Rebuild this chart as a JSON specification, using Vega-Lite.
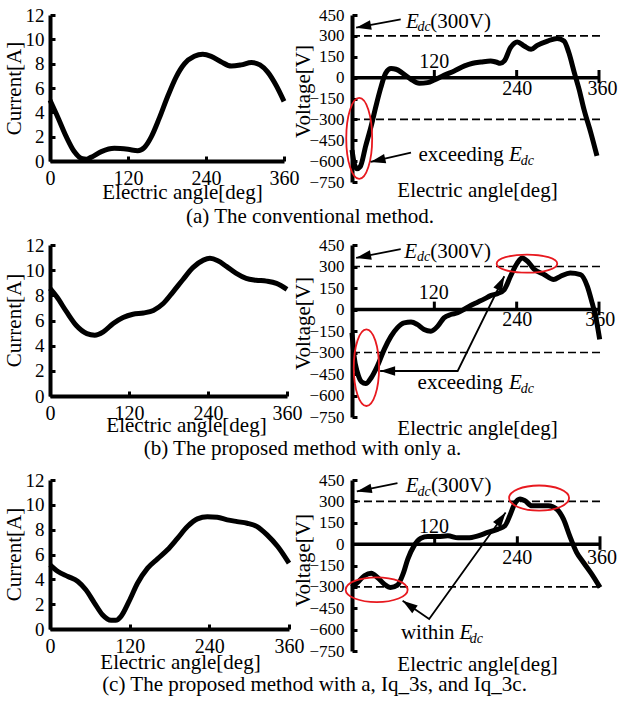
{
  "$schema": "https://vega.github.io/schema/vega-lite/v6.json",
  "padding": {"left": 2, "top": 6, "right": 2, "bottom": 2},
  "columns": 2,
  "bounds": "flush",
  "spacing": {"row": 63, "column": 63},
  "datasets": {
    "curA": [{"x":0,"y":5.0},{"x":12,"y":3.6},{"x":25,"y":2.0},{"x":37,"y":0.8},{"x":50,"y":0.18},{"x":56,"y":0.15},{"x":63,"y":0.3},{"x":79,"y":0.77},{"x":99,"y":1.04},{"x":120,"y":0.96},{"x":135,"y":0.85},{"x":145,"y":1.1},{"x":156,"y":2.0},{"x":168,"y":3.5},{"x":181,"y":5.3},{"x":194,"y":6.9},{"x":207,"y":8.0},{"x":222,"y":8.6},{"x":235,"y":8.77},{"x":248,"y":8.6},{"x":263,"y":8.16},{"x":279,"y":7.8},{"x":294,"y":7.9},{"x":310,"y":8.1},{"x":323,"y":7.9},{"x":335,"y":7.3},{"x":348,"y":6.2},{"x":360,"y":4.9}],
    "voltA": [{"x":0,"y":-520},{"x":3,"y":-610},{"x":7,"y":-655},{"x":12,"y":-640},{"x":20,"y":-490},{"x":28,"y":-347},{"x":35,"y":-203},{"x":42,"y":-72},{"x":49,"y":31},{"x":57,"y":65},{"x":64,"y":60},{"x":74,"y":31},{"x":86,"y":-12},{"x":98,"y":-41},{"x":110,"y":-36},{"x":120,"y":-17},{"x":134,"y":17},{"x":149,"y":48},{"x":164,"y":84},{"x":176,"y":103},{"x":188,"y":112},{"x":202,"y":120},{"x":210,"y":112},{"x":216,"y":103},{"x":222,"y":120},{"x":231,"y":215},{"x":241,"y":256},{"x":251,"y":227},{"x":261,"y":203},{"x":270,"y":232},{"x":285,"y":263},{"x":299,"y":282},{"x":309,"y":263},{"x":316,"y":180},{"x":324,"y":36},{"x":331,"y":-84},{"x":338,"y":-227},{"x":348,"y":-395},{"x":357,"y":-562}],
    "curB": [{"x":0,"y":8.55},{"x":10,"y":7.9},{"x":25,"y":6.7},{"x":40,"y":5.6},{"x":56,"y":4.96},{"x":68,"y":4.83},{"x":81,"y":5.1},{"x":96,"y":5.76},{"x":111,"y":6.24},{"x":126,"y":6.5},{"x":142,"y":6.6},{"x":157,"y":6.8},{"x":172,"y":7.35},{"x":187,"y":8.28},{"x":202,"y":9.26},{"x":217,"y":10.2},{"x":233,"y":10.8},{"x":243,"y":10.94},{"x":255,"y":10.75},{"x":268,"y":10.3},{"x":283,"y":9.74},{"x":298,"y":9.34},{"x":313,"y":9.2},{"x":329,"y":9.13},{"x":344,"y":8.95},{"x":360,"y":8.47}],
    "voltB": [{"x":0,"y":-162},{"x":3,"y":-325},{"x":8,"y":-441},{"x":14,"y":-505},{"x":20,"y":-517},{"x":28,"y":-476},{"x":37,"y":-394},{"x":47,"y":-278},{"x":57,"y":-186},{"x":66,"y":-128},{"x":76,"y":-93},{"x":86,"y":-88},{"x":95,"y":-104},{"x":105,"y":-139},{"x":115,"y":-151},{"x":125,"y":-116},{"x":134,"y":-58},{"x":144,"y":-35},{"x":154,"y":-23},{"x":163,"y":0},{"x":173,"y":28},{"x":183,"y":51},{"x":193,"y":74},{"x":202,"y":97},{"x":212,"y":111},{"x":222,"y":139},{"x":231,"y":232},{"x":241,"y":325},{"x":248,"y":360},{"x":256,"y":336},{"x":265,"y":283},{"x":280,"y":244},{"x":294,"y":209},{"x":304,"y":232},{"x":318,"y":255},{"x":333,"y":244},{"x":343,"y":162},{"x":350,"y":46},{"x":355,"y":-46},{"x":361,"y":-209}],
    "curC": [{"x":0,"y":5.17},{"x":12,"y":4.63},{"x":27,"y":4.23},{"x":42,"y":3.83},{"x":54,"y":3.16},{"x":67,"y":2.09},{"x":79,"y":1.15},{"x":92,"y":0.7},{"x":99,"y":0.7},{"x":107,"y":1.02},{"x":119,"y":2.22},{"x":132,"y":3.7},{"x":147,"y":4.9},{"x":162,"y":5.65},{"x":177,"y":6.38},{"x":192,"y":7.3},{"x":207,"y":8.25},{"x":222,"y":8.87},{"x":237,"y":9.05},{"x":252,"y":9.0},{"x":267,"y":8.79},{"x":282,"y":8.65},{"x":297,"y":8.52},{"x":312,"y":8.25},{"x":327,"y":7.58},{"x":343,"y":6.64},{"x":360,"y":5.3}],
    "voltC": [{"x":0,"y":-304},{"x":8,"y":-269},{"x":18,"y":-222},{"x":28,"y":-204},{"x":37,"y":-234},{"x":47,"y":-281},{"x":56,"y":-304},{"x":66,"y":-288},{"x":74,"y":-211},{"x":81,"y":-105},{"x":90,"y":-12},{"x":100,"y":42},{"x":110,"y":54},{"x":125,"y":54},{"x":139,"y":58},{"x":154,"y":44},{"x":168,"y":44},{"x":183,"y":58},{"x":197,"y":82},{"x":212,"y":105},{"x":222,"y":129},{"x":229,"y":199},{"x":236,"y":281},{"x":244,"y":316},{"x":251,"y":304},{"x":261,"y":269},{"x":273,"y":269},{"x":285,"y":269},{"x":297,"y":246},{"x":307,"y":175},{"x":316,"y":58},{"x":326,"y":-58},{"x":336,"y":-129},{"x":348,"y":-211},{"x":360,"y":-304}],
    "limits": [{"x":0,"x2":365,"y":300},{"x":0,"x2":365,"y":-300}],
    "zero": [{"x":0,"x2":360,"y":0}]
  },
  "concat": [
    {
      "width": 234, "height": 146,
      "title": {"text": "(a) The conventional method.", "orient": "bottom", "anchor": "middle", "dx": 143, "offset": 4},
      "data": {"name": "curA"},
      "mark": {"type": "line", "color": "black", "strokeWidth": 5, "interpolate": "monotone"},
      "encoding": {
        "x": {"field": "x", "type": "quantitative", "scale": {"domain": [0, 360], "nice": false}, "axis": {"values": [0,120,240,360], "title": "Electric angle[deg]", "labelFontSize": 20, "tickSize": -5, "labelPadding": 12, "domainWidth": 4, "tickWidth": 3, "titleFontSize": 21, "titleX": 132, "titleY": 37, "titleBaseline": "alphabetic", "titleAlign": "center"}},
        "y": {"field": "y", "type": "quantitative", "scale": {"domain": [0, 12], "nice": false}, "axis": {"values": [0,2,4,6,8,10,12], "title": "Current[A]", "labelFontSize": 19, "tickSize": -5, "labelPadding": 11, "domainWidth": 4, "tickWidth": 3, "titleFontSize": 21, "titleX": -36, "titleY": 73, "titleAngle": -90, "titleAlign": "center", "titleBaseline": "middle"}}
      }
    },
    {
      "width": 247, "height": 167,
      "encoding": {
        "x": {"field": "x", "type": "quantitative", "scale": {"domain": [0, 360], "nice": false}, "axis": {"title": "Electric angle[deg]", "domain": false, "ticks": false, "labels": false, "titleFontSize": 21, "titleX": 125, "titleY": 14, "titleBaseline": "alphabetic", "titleAlign": "center"}},
        "y": {"field": "y", "type": "quantitative", "scale": {"domain": [-750, 450], "nice": false}, "axis": {"values": [-750,-600,-450,-300,-150,0,150,300,450], "title": "Voltage[V]", "labelFontSize": 17, "tickSize": -5, "labelPadding": 13, "domainWidth": 4, "tickWidth": 3, "titleFontSize": 21, "titleX": -49, "titleY": 76, "titleAngle": -90, "titleAlign": "center", "titleBaseline": "middle"}}
      },
      "layer": [
        {"data": {"name": "limits"}, "mark": {"type": "rule", "color": "black", "strokeWidth": 1.6, "strokeDash": [8, 4]}, "encoding": {"x2": {"field": "x2"}}},
        {"data": {"name": "zero"}, "mark": {"type": "rule", "color": "black", "strokeWidth": 3.5}, "encoding": {"x2": {"field": "x2"}}},
        {"data": {"values": [{"x":120,"y":0,"y2":55},{"x":240,"y":0,"y2":55},{"x":360,"y":-40,"y2":55}]}, "mark": {"type": "rule", "color": "black", "strokeWidth": 3}, "encoding": {"y2": {"field": "y2"}}},
        {"data": {"values": [{"x":120,"y":112,"t":"120"},{"x":241,"y":-84,"t":"240"},{"x":365,"y":-84,"t":"360"}]}, "mark": {"type": "text", "font": "Liberation Serif", "fontSize": 20, "align": "center", "baseline": "middle", "color": "black"}, "encoding": {"text": {"field": "t"}}},
        {"data": {"name": "voltA"}, "mark": {"type": "line", "color": "black", "strokeWidth": 5, "interpolate": "monotone"}},
        {"data": {"values": [{"x":10.5,"y":-437}]}, "mark": {"type": "point", "shape": "M -0.32 0 A 0.32 1 0 1 0 0.32 0 A 0.32 1 0 1 0 -0.32 0", "size": 6561, "filled": false, "color": "#e8191f", "strokeWidth": 1.8, "opacity": 1}},
        {"data": {"values": [{"x":71,"y":419,"g":1,"o":1},{"x":6,"y":359,"g":1,"o":2},{"x":86,"y":-539,"g":2,"o":1},{"x":27,"y":-606,"g":2,"o":2}]}, "mark": {"type": "line", "color": "black", "strokeWidth": 1.8}, "encoding": {"detail": {"field": "g"}, "order": {"field": "o"}}},
        {"data": {"values": [{"x":6,"y":359}]}, "mark": {"type": "point", "shape": "M 0 0 L -1 -0.32 L -1 0.32 Z", "size": 900, "filled": true, "color": "black", "opacity": 1, "angle": 169.5}},
        {"data": {"values": [{"x":27,"y":-606}]}, "mark": {"type": "point", "shape": "M 0 0 L -1 -0.32 L -1 0.32 Z", "size": 900, "filled": true, "color": "black", "opacity": 1, "angle": 167}},
        {"data": {"values": [{"x":114,"y":359,"t":"(300V)"},{"x":97,"y":-598,"t":"exceeding"}]}, "mark": {"type": "text", "font": "Liberation Serif", "fontSize": 21, "align": "left", "baseline": "alphabetic", "color": "black"}, "encoding": {"text": {"field": "t"}}},
        {"data": {"values": [{"x":78.6,"y":359,"t":"E"},{"x":229,"y":-598,"t":"E"}]}, "mark": {"type": "text", "font": "Liberation Serif", "fontSize": 21, "fontStyle": "italic", "align": "left", "baseline": "alphabetic", "color": "black"}, "encoding": {"text": {"field": "t"}}},
        {"data": {"values": [{"x":95.6,"y":335,"t":"dc"},{"x":246,"y":-627,"t":"dc"}]}, "mark": {"type": "text", "font": "Liberation Serif", "fontSize": 14, "fontStyle": "italic", "align": "left", "baseline": "alphabetic", "color": "black"}, "encoding": {"text": {"field": "t"}}}
      ]
    },
    {
      "width": 237, "height": 151,
      "title": {"text": "(b) The proposed method with only a.", "orient": "bottom", "anchor": "middle", "dx": 134, "offset": 3},
      "data": {"name": "curB"},
      "mark": {"type": "line", "color": "black", "strokeWidth": 5, "interpolate": "monotone"},
      "encoding": {
        "x": {"field": "x", "type": "quantitative", "scale": {"domain": [0, 360], "nice": false}, "axis": {"values": [0,120,240,360], "title": "Electric angle[deg]", "labelFontSize": 20, "tickSize": -5, "labelPadding": 12, "domainWidth": 4, "tickWidth": 3, "titleFontSize": 21, "titleX": 136, "titleY": 35, "titleBaseline": "alphabetic", "titleAlign": "center"}},
        "y": {"field": "y", "type": "quantitative", "scale": {"domain": [0, 12], "nice": false}, "axis": {"values": [0,2,4,6,8,10,12], "title": "Current[A]", "labelFontSize": 19, "tickSize": -5, "labelPadding": 11, "domainWidth": 4, "tickWidth": 3, "titleFontSize": 21, "titleX": -36, "titleY": 75, "titleAngle": -90, "titleAlign": "center", "titleBaseline": "middle"}}
      }
    },
    {
      "width": 247, "height": 172,
      "encoding": {
        "x": {"field": "x", "type": "quantitative", "scale": {"domain": [0, 360], "nice": false}, "axis": {"title": "Electric angle[deg]", "domain": false, "ticks": false, "labels": false, "titleFontSize": 21, "titleX": 125, "titleY": 17, "titleBaseline": "alphabetic", "titleAlign": "center"}},
        "y": {"field": "y", "type": "quantitative", "scale": {"domain": [-750, 450], "nice": false}, "axis": {"values": [-750,-600,-450,-300,-150,0,150,300,450], "title": "Voltage[V]", "labelFontSize": 17, "tickSize": -5, "labelPadding": 13, "domainWidth": 4, "tickWidth": 3, "titleFontSize": 21, "titleX": -49, "titleY": 78, "titleAngle": -90, "titleAlign": "center", "titleBaseline": "middle"}}
      },
      "layer": [
        {"data": {"name": "limits"}, "mark": {"type": "rule", "color": "black", "strokeWidth": 1.6, "strokeDash": [8, 4]}, "encoding": {"x2": {"field": "x2"}}},
        {"data": {"name": "zero"}, "mark": {"type": "rule", "color": "black", "strokeWidth": 3.5}, "encoding": {"x2": {"field": "x2"}}},
        {"data": {"values": [{"x":120,"y":0,"y2":55},{"x":240,"y":0,"y2":55},{"x":360,"y":-40,"y2":55}]}, "mark": {"type": "rule", "color": "black", "strokeWidth": 3}, "encoding": {"y2": {"field": "y2"}}},
        {"data": {"values": [{"x":119,"y":116,"t":"120"},{"x":241,"y":-70,"t":"240"},{"x":362,"y":-70,"t":"360"}]}, "mark": {"type": "text", "font": "Liberation Serif", "fontSize": 20, "align": "center", "baseline": "middle", "color": "black"}, "encoding": {"text": {"field": "t"}}},
        {"data": {"name": "voltB"}, "mark": {"type": "line", "color": "black", "strokeWidth": 5, "interpolate": "monotone"}},
        {"data": {"values": [{"x":21,"y":-406}]}, "mark": {"type": "point", "shape": "M -0.33 0 A 0.33 1 0 1 0 0.33 0 A 0.33 1 0 1 0 -0.33 0", "size": 5868, "filled": false, "color": "#e8191f", "strokeWidth": 1.8, "opacity": 1}},
        {"data": {"values": [{"x":255,"y":320}]}, "mark": {"type": "point", "shape": "M -1 0 A 1 0.3 0 1 0 1 0 A 1 0.3 0 1 0 -1 0", "size": 3672, "filled": false, "color": "#e8191f", "strokeWidth": 1.8, "opacity": 1}},
        {"data": {"values": [{"x":71,"y":422,"g":1,"o":1},{"x":6,"y":360,"g":1,"o":2},{"x":41,"y":-429,"g":2,"o":1},{"x":154,"y":-429,"g":2,"o":2},{"x":222,"y":232,"g":2,"o":3}]}, "mark": {"type": "line", "color": "black", "strokeWidth": 1.8}, "encoding": {"detail": {"field": "g"}, "order": {"field": "o"}}},
        {"data": {"values": [{"x":6,"y":360}]}, "mark": {"type": "point", "shape": "M 0 0 L -1 -0.32 L -1 0.32 Z", "size": 900, "filled": true, "color": "black", "opacity": 1, "angle": 168.7}},
        {"data": {"values": [{"x":41,"y":-429}]}, "mark": {"type": "point", "shape": "M 0 0 L -1 -0.32 L -1 0.32 Z", "size": 900, "filled": true, "color": "black", "opacity": 1, "angle": 180}},
        {"data": {"values": [{"x":222,"y":232}]}, "mark": {"type": "point", "shape": "M 0 0 L -1 -0.32 L -1 0.32 Z", "size": 900, "filled": true, "color": "black", "opacity": 1, "angle": -63.8}},
        {"data": {"values": [{"x":114,"y":360,"t":"(300V)"},{"x":95.6,"y":-552,"t":"exceeding"}]}, "mark": {"type": "text", "font": "Liberation Serif", "fontSize": 21, "align": "left", "baseline": "alphabetic", "color": "black"}, "encoding": {"text": {"field": "t"}}},
        {"data": {"values": [{"x":76,"y":360,"t":"E"},{"x":229,"y":-552,"t":"E"}]}, "mark": {"type": "text", "font": "Liberation Serif", "fontSize": 21, "fontStyle": "italic", "align": "left", "baseline": "alphabetic", "color": "black"}, "encoding": {"text": {"field": "t"}}},
        {"data": {"values": [{"x":94.6,"y":336,"t":"dc"},{"x":246,"y":-580,"t":"dc"}]}, "mark": {"type": "text", "font": "Liberation Serif", "fontSize": 14, "fontStyle": "italic", "align": "left", "baseline": "alphabetic", "color": "black"}, "encoding": {"text": {"field": "t"}}}
      ]
    },
    {
      "width": 239, "height": 149,
      "title": {"text": "(c) The proposed method with a, Iq_3s, and Iq_3c.", "orient": "bottom", "anchor": "middle", "dx": 145, "offset": 2},
      "data": {"name": "curC"},
      "mark": {"type": "line", "color": "black", "strokeWidth": 5, "interpolate": "monotone"},
      "encoding": {
        "x": {"field": "x", "type": "quantitative", "scale": {"domain": [0, 360], "nice": false}, "axis": {"values": [0,120,240,360], "title": "Electric angle[deg]", "labelFontSize": 20, "tickSize": -5, "labelPadding": 12, "domainWidth": 4, "tickWidth": 3, "titleFontSize": 21, "titleX": 130, "titleY": 39, "titleBaseline": "alphabetic", "titleAlign": "center"}},
        "y": {"field": "y", "type": "quantitative", "scale": {"domain": [0, 12], "nice": false}, "axis": {"values": [0,2,4,6,8,10,12], "title": "Current[A]", "labelFontSize": 19, "tickSize": -5, "labelPadding": 11, "domainWidth": 4, "tickWidth": 3, "titleFontSize": 21, "titleX": -36, "titleY": 74, "titleAngle": -90, "titleAlign": "center", "titleBaseline": "middle"}}
      }
    },
    {
      "width": 248, "height": 171,
      "encoding": {
        "x": {"field": "x", "type": "quantitative", "scale": {"domain": [0, 360], "nice": false}, "axis": {"title": "Electric angle[deg]", "domain": false, "ticks": false, "labels": false, "titleFontSize": 21, "titleX": 125, "titleY": 19, "titleBaseline": "alphabetic", "titleAlign": "center"}},
        "y": {"field": "y", "type": "quantitative", "scale": {"domain": [-750, 450], "nice": false}, "axis": {"values": [-750,-600,-450,-300,-150,0,150,300,450], "title": "Voltage[V]", "labelFontSize": 17, "tickSize": -5, "labelPadding": 13, "domainWidth": 4, "tickWidth": 3, "titleFontSize": 21, "titleX": -49, "titleY": 80, "titleAngle": -90, "titleAlign": "center", "titleBaseline": "middle"}}
      },
      "layer": [
        {"data": {"name": "limits"}, "mark": {"type": "rule", "color": "black", "strokeWidth": 1.6, "strokeDash": [8, 4]}, "encoding": {"x2": {"field": "x2"}}},
        {"data": {"name": "zero"}, "mark": {"type": "rule", "color": "black", "strokeWidth": 3.5}, "encoding": {"x2": {"field": "x2"}}},
        {"data": {"values": [{"x":120,"y":0,"y2":55},{"x":240,"y":0,"y2":55},{"x":360,"y":-40,"y2":55}]}, "mark": {"type": "rule", "color": "black", "strokeWidth": 3}, "encoding": {"y2": {"field": "y2"}}},
        {"data": {"values": [{"x":119,"y":117,"t":"120"},{"x":240,"y":-94,"t":"240"},{"x":363,"y":-94,"t":"360"}]}, "mark": {"type": "text", "font": "Liberation Serif", "fontSize": 20, "align": "center", "baseline": "middle", "color": "black"}, "encoding": {"text": {"field": "t"}}},
        {"data": {"name": "voltC"}, "mark": {"type": "line", "color": "black", "strokeWidth": 5, "interpolate": "monotone"}},
        {"data": {"values": [{"x":35.8,"y":-320}]}, "mark": {"type": "point", "shape": "M -1 0 A 1 0.4 0 1 0 1 0 A 1 0.4 0 1 0 -1 0", "size": 3844, "filled": false, "color": "#e8191f", "strokeWidth": 1.8, "opacity": 1}},
        {"data": {"values": [{"x":271.6,"y":323}]}, "mark": {"type": "point", "shape": "M -1 0 A 1 0.42 0 1 0 1 0 A 1 0.42 0 1 0 -1 0", "size": 3600, "filled": false, "color": "#e8191f", "strokeWidth": 1.8, "opacity": 1}},
        {"data": {"values": [{"x":66,"y":428,"g":1,"o":1},{"x":7,"y":370,"g":1,"o":2},{"x":73.5,"y":-398,"g":2,"o":1},{"x":112,"y":-526,"g":2,"o":2},{"x":223,"y":222,"g":2,"o":3}]}, "mark": {"type": "line", "color": "black", "strokeWidth": 1.8}, "encoding": {"detail": {"field": "g"}, "order": {"field": "o"}}},
        {"data": {"values": [{"x":7,"y":370}]}, "mark": {"type": "point", "shape": "M 0 0 L -1 -0.32 L -1 0.32 Z", "size": 900, "filled": true, "color": "black", "opacity": 1, "angle": 168.4}},
        {"data": {"values": [{"x":73.5,"y":-398}]}, "mark": {"type": "point", "shape": "M 0 0 L -1 -0.32 L -1 0.32 Z", "size": 900, "filled": true, "color": "black", "opacity": 1, "angle": 214.6}},
        {"data": {"values": [{"x":223,"y":222}]}, "mark": {"type": "point", "shape": "M 0 0 L -1 -0.32 L -1 0.32 Z", "size": 900, "filled": true, "color": "black", "opacity": 1, "angle": -54.5}},
        {"data": {"values": [{"x":114.5,"y":363,"t":"(300V)"},{"x":71,"y":-667,"t":"within"}]}, "mark": {"type": "text", "font": "Liberation Serif", "fontSize": 21, "align": "left", "baseline": "alphabetic", "color": "black"}, "encoding": {"text": {"field": "t"}}},
        {"data": {"values": [{"x":78,"y":363,"t":"E"},{"x":156,"y":-667,"t":"E"}]}, "mark": {"type": "text", "font": "Liberation Serif", "fontSize": 21, "fontStyle": "italic", "align": "left", "baseline": "alphabetic", "color": "black"}, "encoding": {"text": {"field": "t"}}},
        {"data": {"values": [{"x":95,"y":339,"t":"dc"},{"x":171,"y":-695,"t":"dc"}]}, "mark": {"type": "text", "font": "Liberation Serif", "fontSize": 14, "fontStyle": "italic", "align": "left", "baseline": "alphabetic", "color": "black"}, "encoding": {"text": {"field": "t"}}}
      ]
    }
  ],
  "config": {
    "font": "Liberation Serif",
    "view": {"stroke": null},
    "axis": {"labelFont": "Liberation Serif", "titleFont": "Liberation Serif", "labelColor": "black", "titleColor": "black", "domainColor": "black", "tickColor": "black", "titleFontWeight": "normal", "grid": false, "labelFlush": false, "labelOverlap": false},
    "title": {"font": "Liberation Serif", "fontWeight": "normal", "fontSize": 21, "color": "black"},
    "text": {"font": "Liberation Serif"}
  }
}
